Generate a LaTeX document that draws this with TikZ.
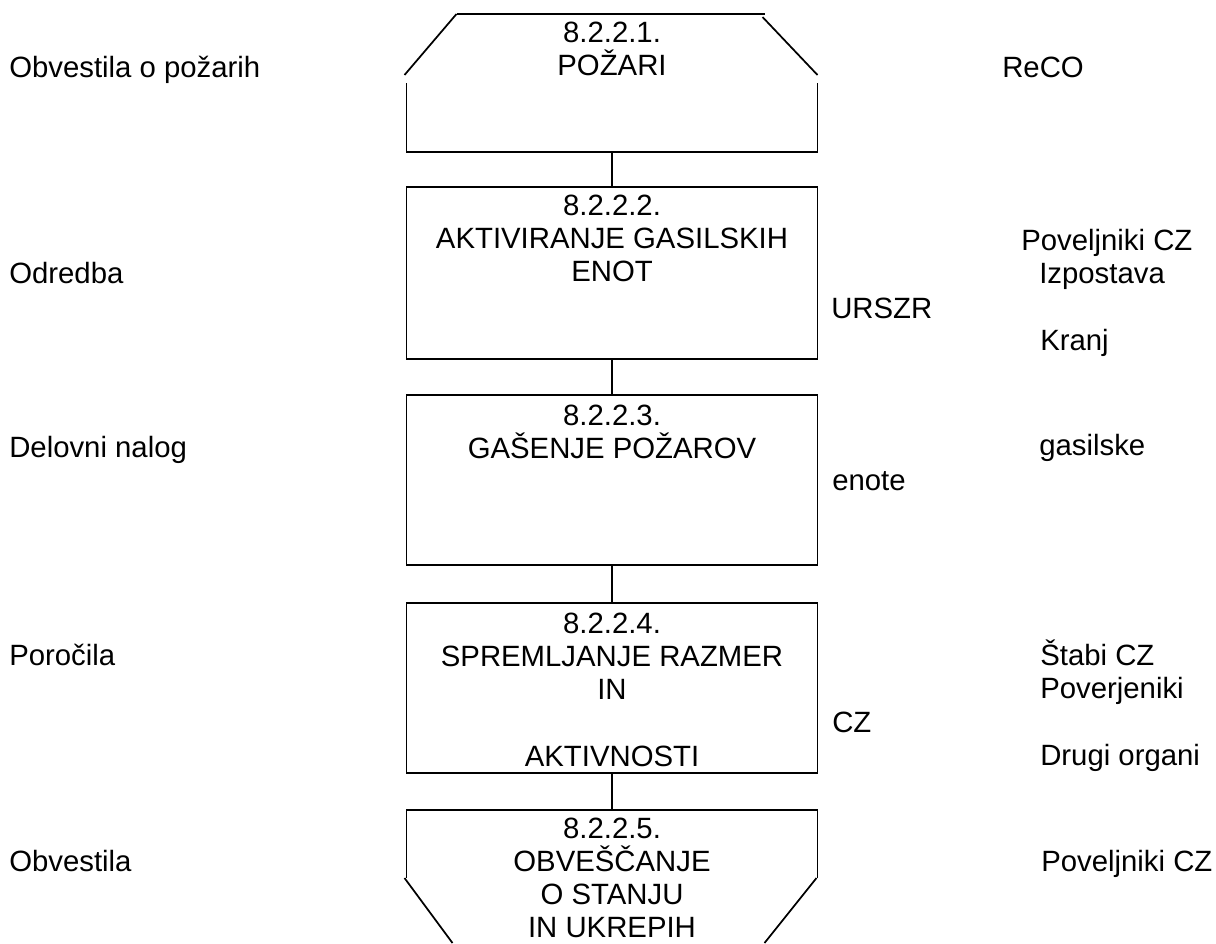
\documentclass[tikz,border=0pt]{standalone}
\usepackage{fontspec}
\setmainfont{Liberation Sans}
\usetikzlibrary{calc}
\begin{document}
\begin{tikzpicture}[x=0.75pt,y=-0.75pt,
  line/.style={line width=1.3pt,line cap=butt},
  stepbox/.style={draw,line width=1.3pt,rectangle,minimum width=308.25pt,inner sep=0pt,outer sep=0pt},
  ghost/.style={rectangle,minimum width=308.25pt,inner sep=0pt,outer sep=0pt},
  boxtext/.style={anchor=north,align=center,inner sep=0pt,font=\fontsize{22}{24.8}\selectfont},
  side/.style={anchor=base west,inner sep=0pt,font=\fontsize{22}{24.8}\selectfont}]
\useasboundingbox (0,0) rectangle (1216,943);

% boxes
\node[ghost,minimum height=103.5pt] (b1) at (612,83) {};
\node[stepbox,minimum height=129pt] (b2) at (612,273) {};
\node[stepbox,minimum height=127.5pt] (b3) at (612,480) {};
\node[stepbox,minimum height=127.5pt] (b4) at (612,688) {};
\node[ghost,minimum height=99.75pt] (b5) at (612,876.5) {};

% top shape
\draw[line] ($(b1.north west)+(50,0)$) -- ($(b1.north east)+(-53,0)$);
\draw[line] ($(b1.north west)+(50,0)$) -- ($(b1.north west)+(-2,61)$);
\draw[line] ($(b1.north east)+(-55,3)$) -- ($(b1.north east)+(0,61)$);
\draw[line] ($(b1.north west)+(0,69)$) -- (b1.south west) -- (b1.south east) -- ($(b1.north east)+(0,69)$);

% bottom shape
\draw[line] ($(b5.north west)+(0,68)$) -- (b5.north west) -- (b5.north east) -- ($(b5.north east)+(0,68)$);
\draw[line] ($(b5.north west)+(-2,68)$) -- ($(b5.south west)+(46,0)$);
\draw[line] ($(b5.north east)+(-1,68)$) -- ($(b5.south east)+(-53,0)$);

% connectors
\draw[line] (b1.south) -- (b2.north);
\draw[line] (b2.south) -- (b3.north);
\draw[line] (b3.south) -- (b4.north);
\draw[line] (b4.south) -- (b5.north);

% box texts
\node[boxtext] (t1) at ($(b1.north)+(0,8)$) {8.2.2.1.\\POŽARI};
\node[boxtext] (t2) at ($(b2.north)+(0,8)$) {8.2.2.2.\\AKTIVIRANJE GASILSKIH\\ENOT};
\node[boxtext] (t3) at ($(b3.north)+(0,10)$) {8.2.2.3.\\GAŠENJE POŽAROV};
\node[boxtext] (t4) at ($(b4.north)+(0,10)$) {8.2.2.4.\\SPREMLJANJE RAZMER\\IN\\ \\AKTIVNOSTI};
\node[boxtext] (t5) at ($(b5.north)+(0,8)$) {8.2.2.5.\\OBVEŠČANJE\\O STANJU\\IN UKREPIH};

% left column
\node[side] (l1) at (9,77) {Obvestila o požarih};
\node[side] (l2) at (9,283) {Odredba};
\node[side] (l3) at (9,457) {Delovni nalog};
\node[side] (l4) at (9,665) {Poročila};
\node[side] (l5) at (9,871) {Obvestila};

% middle column
\node[side] (m2) at (831,318) {URSZR};
\node[side] (m3) at (832,490) {enote};
\node[side] (m4) at (832,732) {CZ};

% right column
\node[side] (r1) at (1002,77) {ReCO};
\node[side] (r2a) at (1021,250) {Poveljniki CZ};
\node[side] (r2b) at (1039,283) {Izpostava};
\node[side] (r2c) at (1040,350) {Kranj};
\node[side] (r3) at (1039,455) {gasilske};
\node[side] (r4a) at (1040,665) {Štabi CZ};
\node[side] (r4b) at (1040,698) {Poverjeniki};
\node[side] (r4c) at (1040,765) {Drugi organi};
\node[side] (r5) at (1041,871) {Poveljniki CZ};
\end{tikzpicture}
\end{document}
